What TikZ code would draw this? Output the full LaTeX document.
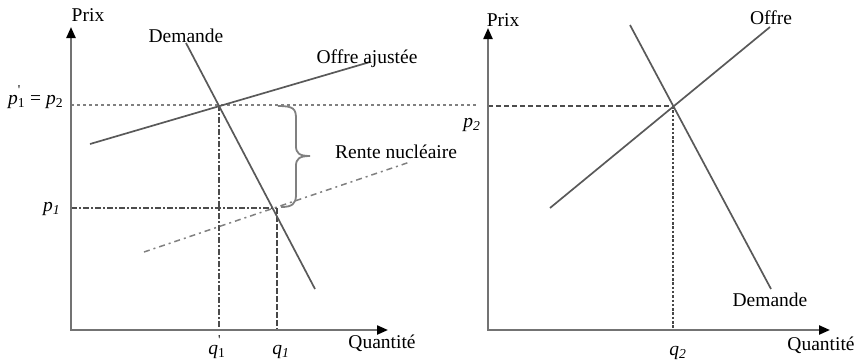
\documentclass[tikz,border=0pt]{standalone}
\usepackage{fontspec}
\setmainfont{Liberation Serif}
\usetikzlibrary{arrows.meta}
\newcommand\lab[3]{\textit{#1}\rlap{\raisebox{0.25ex}{\textsuperscript{#2}}}\textsubscript{#3}}
\begin{document}
\begin{tikzpicture}[x=1pt,y=-1pt,
  axis/.style={draw=black!55, line width=2.2pt,
    arrows={Triangle[length=11pt,width=9pt,color=black]-Triangle[length=11pt,width=9pt,color=black]}},
  curve/.style={draw=black!65, line width=1.7pt},
  lbl/.style={font=\fontsize{19.5}{22}\selectfont, inner sep=0pt, text=black},
  guideL/.style={draw=black!50, line width=1.4pt, dash pattern=on 3pt off 3pt},
  guideR/.style={draw=black!70, line width=1.5pt, dash pattern=on 5pt off 3pt},
  dashdot/.style={draw=black!70, line width=1.5pt, dash pattern=on 6pt off 2pt on 2pt off 2pt},
  lowoffer/.style={draw=black!50, line width=1.5pt, dash pattern=on 6pt off 4pt on 2pt off 4pt},
  thickdash/.style={draw=black!72, line width=2.6pt, dash pattern=on 6pt off 2pt},
  thickdot/.style={draw=black!72, line width=2.8pt, dash pattern=on 2.5pt off 1.8pt},
  bracestyle/.style={draw=black!50, line width=1.8pt},
]
\useasboundingbox (0,0) rectangle (857,362);

% ---------- left panel ----------
\coordinate (Ly) at (71,27);
\coordinate (L0) at (71,330);
\coordinate (Lx) at (388,330);
\coordinate (Dtop) at (186,43);
\coordinate (Dbot) at (315,289);
\coordinate (OAs) at (90,144);
\coordinate (OAe) at (370,62);
\coordinate (LOs) at (144,252);
\coordinate (LOe) at (410,162);
\coordinate (E1) at (219,105);
\coordinate (E0) at (277,208);
\coordinate (Lp2) at (71,105);
\coordinate (Lp2e) at (476,105);
\coordinate (Lp1) at (71,208);
\coordinate (Lq1p) at (219,330);
\coordinate (Lq1) at (277,330);

\draw[guideL] (Lp2) -- (Lp2e);
\draw[dashdot] (E1) -- (Lq1p);
\draw[dashdot] (Lp1) -- (E0);
\draw[thickdash] (E0) -- (Lq1);
\draw[lowoffer] (LOs) -- (LOe);
\draw[curve] (OAs) -- (OAe);
\draw[curve] (Dtop) -- (Dbot);
\draw[axis] (Ly) -- (L0) -- (Lx);

% brace
\coordinate (Bt) at (278,106);
\coordinate (Bb) at (281,207);
\coordinate (Btip) at (310,156);
\draw[bracestyle]
  (Bt) .. controls (294,106) and (296,109) .. (296,119) -- (296,146)
  .. controls (296,153) and (299,156) .. (Btip)
  .. controls (299,156) and (296,159) .. (296,166) -- (296,195)
  .. controls (296,204) and (292,207) .. (Bb);

\node[lbl, anchor=base] (prixL) at (88,21) {Prix};
\node[lbl, anchor=base] (demL) at (186,42) {Demande};
\node[lbl, anchor=base] (offaj) at (367,63) {Offre ajustée};
\node[lbl, anchor=base west] (rente) at (335,158) {Rente nucléaire};
\node[lbl, anchor=base west] (p12) at (8,104) {\lab{p}{\textquotesingle}{1} = \textit{p}\textsubscript{2}};
\node[lbl, anchor=base west] (p1) at (43,211) {\textit{p}\textsubscript{\textit{1}}};
\node[lbl, anchor=base] (q1p) at (217,354) {\lab{q}{\textquotesingle}{1}};
\node[lbl, anchor=base] (q1) at (281,354) {\textit{q}\textsubscript{\textit{1}}};
\node[lbl, anchor=base] (quantL) at (382,348) {Quantité};

% ---------- right panel ----------
\coordinate (Ry) at (488,28);
\coordinate (R0) at (488,330);
\coordinate (Rx) at (830,330);
\coordinate (Os) at (550,208);
\coordinate (Oe) at (770,27);
\coordinate (RDs) at (630,25);
\coordinate (RDe) at (771,289);
\coordinate (E2) at (673,106);
\coordinate (Rp2) at (488,106);
\coordinate (Rq2) at (673,330);

\draw[guideR] (Rp2) -- (E2);
\draw[thickdot] (E2) -- (Rq2);
\draw[curve] (Os) -- (Oe);
\draw[curve] (RDs) -- (RDe);
\draw[axis] (Ry) -- (R0) -- (Rx);

\node[lbl, anchor=base] (prixR) at (503,26) {Prix};
\node[lbl, anchor=base] (offre) at (771,24) {Offre};
\node[lbl, anchor=base] (demR) at (770,306) {Demande};
\node[lbl, anchor=base] (p2) at (472,127) {\textit{p}\textsubscript{\textit{2}}};
\node[lbl, anchor=base] (q2) at (678,355) {\textit{q}\textsubscript{\textit{2}}};
\node[lbl, anchor=base] (quantR) at (821,350) {Quantité};
\end{tikzpicture}
\end{document}
